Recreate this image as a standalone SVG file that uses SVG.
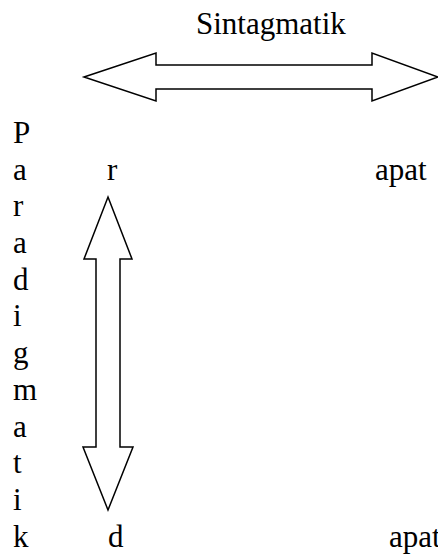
<svg xmlns="http://www.w3.org/2000/svg" width="438" height="557" viewBox="0 0 438 557">
  <style>
    text { font-family: "Liberation Serif", "Times New Roman", serif; font-size: 31px; fill: #000; }
    .arrow { fill: #fff; stroke: #000; stroke-width: 1.5; stroke-linejoin: miter; }
  </style>
  <rect width="438" height="557" fill="#fff"/>

  <!-- axis labels -->
  <g id="label-sintagmatik">
    <text x="196" y="34">Sintagmatik</text>
  </g>
  <g id="label-paradigmatik">
    <text x="13" y="143">P</text>
    <text x="13" y="180">a</text>
    <text x="13" y="216">r</text>
    <text x="13" y="253">a</text>
    <text x="13" y="290">d</text>
    <text x="13" y="326">i</text>
    <text x="13" y="363">g</text>
    <text x="13" y="400">m</text>
    <text x="13" y="437">a</text>
    <text x="13" y="473">t</text>
    <text x="13" y="510">i</text>
    <text x="13" y="547">k</text>
  </g>

  <!-- word fragments -->
  <g id="word-rapat">
    <text x="107" y="180">r</text>
    <text x="375" y="180">apat</text>
  </g>
  <g id="word-dapat">
    <text x="108" y="547">d</text>
    <text x="389" y="547">apat</text>
  </g>

  <!-- double-headed block arrows -->
  <g id="connectors">
    <polygon class="arrow" points="84,77 156,53 156,65 372,65 372,53 438,77 372,101 372,89 156,89 156,101"/>
    <polygon class="arrow" points="108,197 132,259 120,259 120,447 133,447 108,510 83,447 96,447 96,259 84,259"/>
  </g>
</svg>
